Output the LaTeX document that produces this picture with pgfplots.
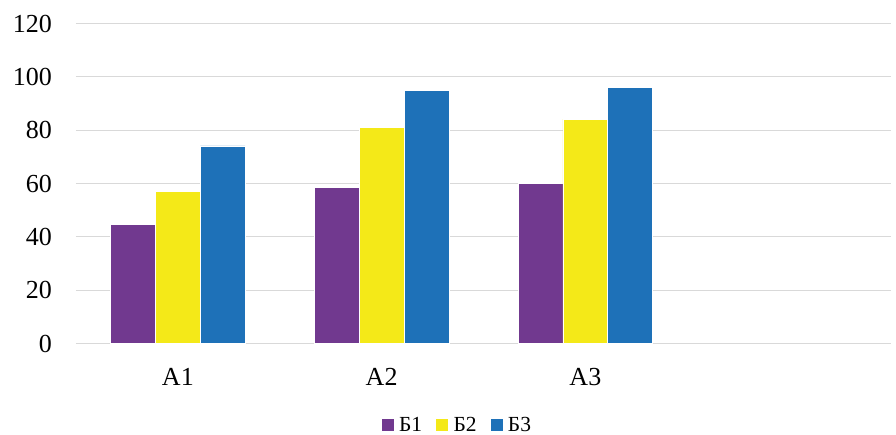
\documentclass[border=0pt]{standalone}
\usepackage{fontspec}
\setmainfont{Liberation Serif}
\usepackage{pgfplots}
\pgfplotsset{compat=1.18}
\definecolor{cP}{HTML}{71398F}
\definecolor{cY}{HTML}{F4E918}
\definecolor{cB}{HTML}{1E71B8}
\definecolor{cG}{HTML}{D9D9D9}
\begin{document}
\begin{tikzpicture}
\begin{axis}[
  at={(0,0)}, anchor=south west,
  scale only axis, width=815pt, height=320pt,
  ybar, bar width=0.22,
  xmin=-0.5, xmax=3.5, ymin=0, ymax=120,
  xtick={0,1,2}, xticklabels={А1,А2,А3},
  ytick={0,20,...,120},
  /pgf/number format/assume math mode=true,
  ymajorgrids, grid style={cG, line width=1.2pt},
  axis line style={draw=none}, major tick length=0pt, tick style={draw=none},
  ticklabel style={font=\fontsize{26}{30}\selectfont, inner sep=0pt},
  yticklabel style={anchor=east, xshift=-24pt},
  xticklabel style={anchor=north, yshift=-25pt},
  legend style={at={(0.468,-0.255)}, anchor=center, draw=none, legend columns=-1,
    font=\fontsize{21.5}{24}\selectfont, inner sep=0pt,
    /tikz/every even column/.append style={column sep=12pt}},
  legend image code/.code={\path[#1, draw=none] (0pt,-6pt) rectangle (12pt,6pt); \path (15pt,0pt);},
]
\addplot[fill=cP, draw=white, line width=0.6pt, bar shift=-0.22] coordinates {(0,44.6) (1,58.5) (2,59.9)};
\addplot[fill=cY, draw=white, line width=0.6pt, bar shift=0] coordinates {(0,57.1) (1,81.0) (2,84.1)};
\addplot[fill=cB, draw=white, line width=0.6pt, bar shift=0.22] coordinates {(0,74.1) (1,95.0) (2,96.0)};
\legend{Б1,Б2,Б3}
\end{axis}
\pgfresetboundingbox
\path (-76pt,-91.5pt) rectangle (820pt,343.5pt);
\end{tikzpicture}
\end{document}
